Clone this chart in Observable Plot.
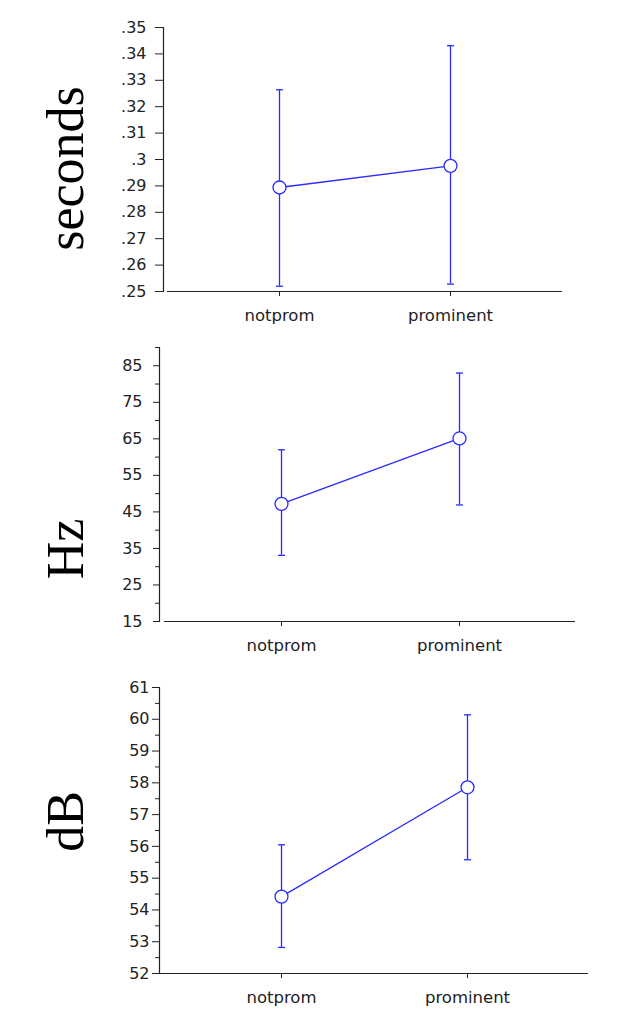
<!DOCTYPE html>
<html>
<head>
<meta charset="utf-8">
<script src="https://cdn.jsdelivr.net/npm/d3@7"></script>
<script src="https://cdn.jsdelivr.net/npm/@observablehq/plot@0.6"></script>
<style>
  html, body { margin: 0; padding: 0; background: #fff; }
  #chart svg { display: block; }
</style>
</head>
<body>
<div id="chart"></div>
<script>
const categories = ["notprom", "prominent"];

const secMean = [0.2894, 0.2976];
const secLow  = [0.2520, 0.2528];
const secHigh = [0.3264, 0.3431];
const secTicks = [0.25, 0.26, 0.27, 0.28, 0.29, 0.30, 0.31, 0.32, 0.33, 0.34, 0.35];

const hzMean = [47.2, 65.1];
const hzLow  = [33.1, 46.9];
const hzHigh = [62.0, 83.0];
const hzTicks = [15, 25, 35, 45, 55, 65, 75, 85];
const hzMinor = [20, 30, 40, 50, 60, 70, 80, 90];

const dbMean = [54.42, 57.86];
const dbLow  = [52.82, 55.58];
const dbHigh = [56.05, 60.14];
const dbTicks = [52, 53, 54, 55, 56, 57, 58, 59, 60, 61];
const dbMinor = [52.5, 53.5, 54.5, 55.5, 56.5, 57.5, 58.5, 59.5, 60.5];

const blue = "#2a2aff";
const ink = "#222";

const capSymbol = {
  draw(context) {
    context.moveTo(-3.5, 0);
    context.lineTo(3.5, 0);
  }
};

function panel(o) {
  const rows = categories.map((c, i) => ({cat: c, mean: o.mean[i], lo: o.low[i], hi: o.high[i]}));
  const marks = [
    Plot.ruleY([o.domain[0]], {stroke: ink, strokeWidth: 1.2, insetLeft: o.gap}),
    Plot.frame({anchor: "left", stroke: ink, strokeWidth: 1.2}),
    Plot.axisY({ticks: o.ticks, tickSize: o.tickSize, tickPadding: o.tickPadding, tickFormat: o.format, fontSize: 16, fill: ink, stroke: ink, label: null}),
    Plot.axisX({tickSize: 5, tickPadding: 13, fontSize: 16.5, fill: ink, stroke: ink, label: null})
  ];
  if (o.minor) marks.push(Plot.axisY({ticks: o.minor, tickSize: 4, tickFormat: () => "", stroke: ink, label: null}));
  marks.push(
    Plot.ruleX(rows, {x: "cat", y1: "lo", y2: "hi", stroke: blue, strokeWidth: 1.3}),
    Plot.dot(rows, {x: "cat", y: "lo", symbol: capSymbol, r: 4, fill: "none", stroke: blue, strokeWidth: 1.3}),
    Plot.dot(rows, {x: "cat", y: "hi", symbol: capSymbol, r: 4, fill: "none", stroke: blue, strokeWidth: 1.3}),
    Plot.line(rows, {x: "cat", y: "mean", stroke: blue, strokeWidth: 1.3}),
    Plot.dot(rows, {x: "cat", y: "mean", r: 6.5, fill: "white", stroke: blue, strokeWidth: 1.3}),
    Plot.text([o.label], {text: d => d, frameAnchor: "left", rotate: -90, textAnchor: "middle", lineAnchor: "bottom",
      dx: o.labelDx, dy: o.labelDy, fontSize: 52, fontFamily: "Liberation Serif", fill: "#000"})
  );
  return Plot.plot({
    width: 621,
    height: o.height,
    marginTop: o.mt,
    marginBottom: o.mb,
    marginLeft: o.ml,
    marginRight: o.mr,
    style: {fontFamily: "DejaVu Sans", background: "white", overflow: "visible"},
    x: {type: "point", domain: categories, padding: o.pad, align: o.align},
    y: {domain: o.domain},
    marks
  });
}

const fmtSec = d => d3.format(".2~f")(d).replace(/^0/, "");

const chart = document.getElementById("chart");
chart.append(panel({
  mean: secMean, low: secLow, high: secHigh, ticks: secTicks, format: fmtSec, domain: [0.25, 0.35],
  height: 330, mt: 27, mb: 39, ml: 163, mr: 59, pad: 0.66, align: 0.507, gap: 4, tickSize: 8, tickPadding: 9,
  label: "seconds", labelDx: -81, labelDy: 9
}));
chart.append(panel({
  mean: hzMean, low: hzLow, high: hzHigh, ticks: hzTicks, minor: hzMinor, format: d3.format("d"), domain: [15, 90],
  height: 340, mt: 17, mb: 49, ml: 159, mr: 46, pad: 0.6646, align: 0.513, gap: 5, tickSize: 6, tickPadding: 11,
  label: "Hz", labelDx: -77, labelDy: 64.5
}));
chart.append(panel({
  mean: dbMean, low: dbLow, high: dbHigh, ticks: dbTicks, minor: dbMinor, format: d3.format("d"), domain: [52, 61],
  height: 346, mt: 17, mb: 43, ml: 159, mr: 33, pad: 0.648, align: 0.5, gap: 0, tickSize: 7, tickPadding: 3,
  label: "dB", labelDx: -77, labelDy: -9
}));
</script>
</body>
</html>
